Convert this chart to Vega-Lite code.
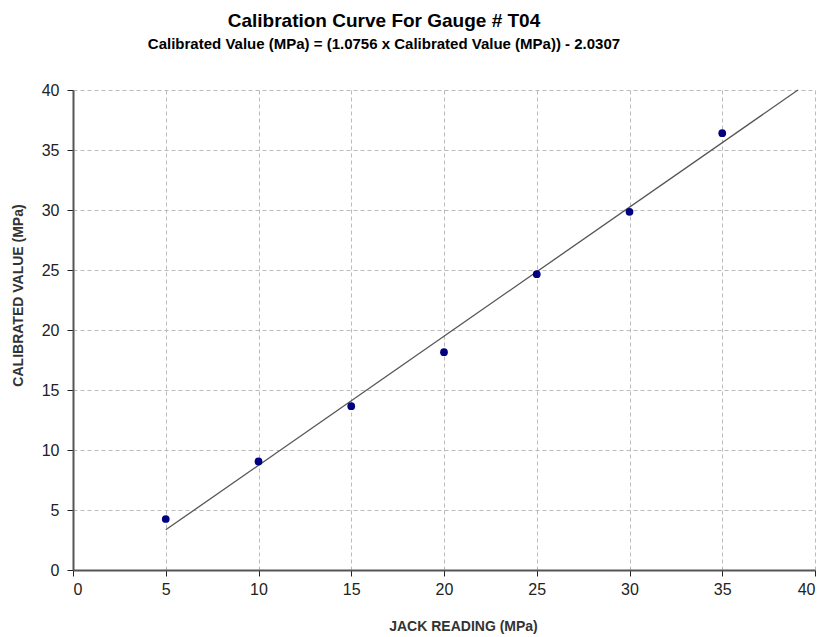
{
  "$schema": "https://vega.github.io/schema/vega-lite/v6.json",
  "width": 742,
  "height": 480,
  "autosize": "none",
  "padding": {"left": 73, "top": 90, "right": 12, "bottom": 67},
  "background": "white",
  "title": {
    "text": "Calibration Curve For Gauge # T04",
    "subtitle": "Calibrated Value (MPa) = (1.0756  x Calibrated Value (MPa)) - 2.0307",
    "anchor": "middle",
    "dx": -60,
    "offset": 30,
    "font": "Liberation Sans",
    "fontSize": 19,
    "fontWeight": "bold",
    "color": "#000",
    "subtitleFont": "Liberation Sans",
    "subtitleFontSize": 15,
    "subtitleFontWeight": "bold",
    "subtitleColor": "#000",
    "subtitlePadding": 6
  },
  "config": {
    "view": {"stroke": null},
    "axis": {
      "grid": true,
      "gridColor": "#bbbbbb",
      "gridDash": [4, 3],
      "gridWidth": 1,
      "domainColor": "#555",
      "domainWidth": 2,
      "tickColor": "#222",
      "tickSize": 6,
      "labelFont": "Liberation Sans",
      "labelFontSize": 16,
      "labelColor": "#222",
      "titleFont": "Liberation Sans",
      "titleFontSize": 14,
      "titleFontWeight": "bold",
      "titleColor": "#333"
    }
  },
  "datasets": {
    "points": [
      {"jack": 5, "cal": 4.25},
      {"jack": 10, "cal": 9.05},
      {"jack": 15, "cal": 13.65},
      {"jack": 20, "cal": 18.15},
      {"jack": 25, "cal": 24.65},
      {"jack": 30, "cal": 29.85},
      {"jack": 35, "cal": 36.4}
    ],
    "fit": [
      {"jack": 5, "cal": 3.347},
      {"jack": 39.08, "cal": 40.0}
    ]
  },
  "layer": [
    {
      "data": {"name": "fit"},
      "mark": {"type": "line", "color": "#555", "strokeWidth": 1.3},
      "encoding": {
        "x": {
          "field": "jack", "type": "quantitative",
          "scale": {"domain": [0, 40], "nice": false},
          "axis": {"values": [0, 5, 10, 15, 20, 25, 30, 35, 40], "title": "JACK READING  (MPa)", "titlePadding": 22, "labelPadding": 5, "titleX": 390}
        },
        "y": {
          "field": "cal", "type": "quantitative",
          "scale": {"domain": [0, 40], "nice": false},
          "axis": {"values": [0, 5, 10, 15, 20, 25, 30, 35, 40], "title": "CALIBRATED  VALUE  (MPa)", "titlePadding": 16, "labelPadding": 8, "titleY": 205}
        }
      }
    },
    {
      "data": {"name": "points"},
      "mark": {"type": "circle", "color": "#000080", "size": 60, "opacity": 1},
      "encoding": {
        "x": {"field": "jack", "type": "quantitative"},
        "y": {"field": "cal", "type": "quantitative"}
      }
    }
  ]
}
